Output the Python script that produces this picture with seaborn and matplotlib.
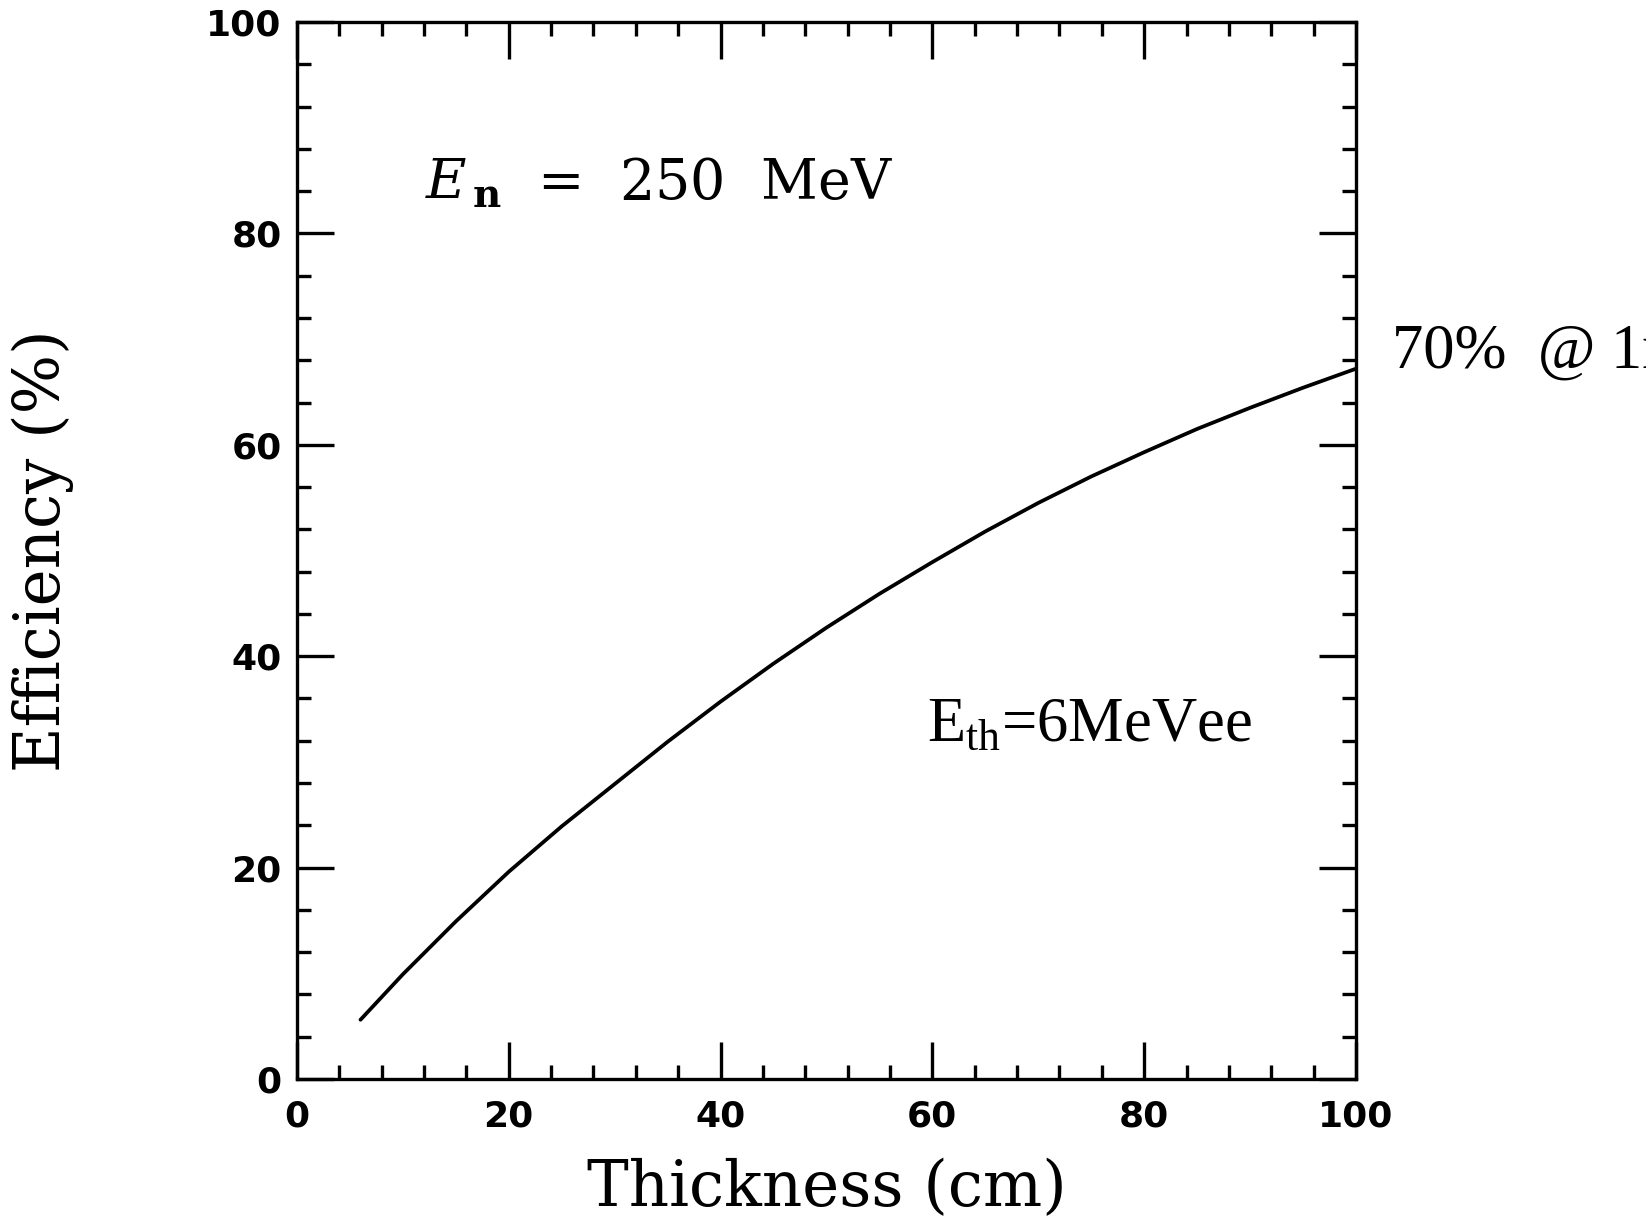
import matplotlib
matplotlib.use("Agg")
import matplotlib.pyplot as plt
import seaborn as sns
import pandas as pd
from matplotlib.ticker import MultipleLocator

thickness_cm = [6, 10, 15, 20, 25, 30, 35, 40, 45, 50, 55, 60, 65, 70, 75, 80, 85, 90, 95, 100]
efficiency_pct = [5.6, 9.9, 14.9, 19.6, 23.9, 27.9, 31.9, 35.7, 39.3, 42.7, 45.9, 48.9, 51.8, 54.5,
                  57.0, 59.3, 61.5, 63.5, 65.4, 67.2]
x_ticks = [0, 20, 40, 60, 80, 100]
y_ticks = [0, 20, 40, 60, 80, 100]

sns.set_theme(style="ticks")
plt.rcParams["font.family"] = ["DejaVu Sans"]
plt.rcParams["mathtext.fontset"] = "custom"
plt.rcParams["mathtext.rm"] = "Liberation Serif"
plt.rcParams["mathtext.it"] = "DejaVu Serif:italic"
plt.rcParams["mathtext.bf"] = "DejaVu Serif:bold"

df = pd.DataFrame({"Thickness": thickness_cm, "Efficiency": efficiency_pct})

fig = plt.figure(figsize=(16.46, 12.24), dpi=100)
ax = fig.add_axes([0.1804, 0.1185, 0.6434, 0.8635])
sns.lineplot(data=df, x="Thickness", y="Efficiency", ax=ax, color="black", linewidth=2.7)

ax.set_xlim(0, 100)
ax.set_ylim(0, 100)
ax.set_xticks(x_ticks)
ax.set_yticks(y_ticks)
ax.xaxis.set_minor_locator(MultipleLocator(4))
ax.yaxis.set_minor_locator(MultipleLocator(4))
ax.tick_params(which="both", direction="in", top=True, right=True, color="black", width=2.4)
ax.tick_params(which="major", length=26.5)
ax.tick_params(which="minor", length=10)
ax.tick_params(axis="x", which="major", pad=15)
ax.tick_params(axis="y", which="major", pad=11)
for lab in ax.get_xticklabels() + ax.get_yticklabels():
    lab.set_fontsize(26)
    lab.set_fontweight("bold")
    lab.set_color("black")
for s in ax.spines.values():
    s.set_visible(True)
    s.set_linewidth(2.4)
    s.set_color("black")

ax.set_xlabel("Thickness (cm)", fontsize=45, family="DejaVu Serif", color="black")
ax.set_ylabel("Efficiency (%)", fontsize=45, family="DejaVu Serif", color="black")
ax.xaxis.set_label_coords(0.5, (1079 - 1158) / 1057)
ax.yaxis.set_label_coords((74 - 297) / 1059, 0.5)

ax.text(12.1, 83.2, r"$E_{\,\mathbf{n}}$  =  250  MeV", fontsize=40, family="DejaVu Serif", color="black")
ax.text(59.5, 32.0, r"E$_{\mathrm{th}}$=6MeVee", fontsize=45, family="Liberation Serif", color="black")
fig.text(1392 / 1646, 1 - 368 / 1224, "70%  @ 1m", fontsize=45, family="Liberation Serif", color="black")

fig.savefig("out.png", dpi=100)
